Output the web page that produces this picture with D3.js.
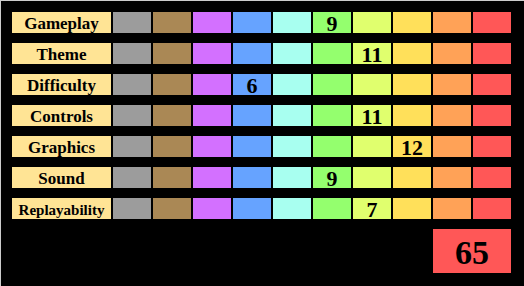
<!DOCTYPE html>
<html>
<head>
<meta charset="utf-8">
<script src="https://cdn.jsdelivr.net/npm/d3@7"></script>
<style>
  body { margin: 0; background: #cccccc; }
  svg { display: block; }
</style>
</head>
<body>
<svg width="524" height="286"></svg>
<script>
// categories and scores
const categories = ["Gameplay", "Theme", "Difficulty", "Controls", "Graphics", "Sound", "Replayability"];
const scores = [9, 11, 6, 11, 12, 9, 7];
// which colour column holds the score on each row
const scoreColumn = [5, 6, 3, 6, 7, 5, 6];
const total = 65;
const columnColors = ["#9c9c9c", "#aa8855", "#d370ff", "#66a3ff", "#a8fff0",
                      "#94ff6e", "#e0ff6e", "#ffe05a", "#ffa257", "#ff5757"];

const FONT = "'Liberation Serif', 'Times New Roman', Times, serif";

const svg = d3.select("svg");

// black panel, leaves a 1px grey edge at top and left
svg.append("rect")
  .attr("x", 1).attr("y", 1)
  .attr("width", 523).attr("height", 285)
  .attr("fill", "#000");

// rows: 21px boxes, 31px apart
const yScale = d3.scaleBand()
  .domain(categories)
  .range([12, 12 + 31 * categories.length - 10])
  .paddingInner(10 / 31)
  .paddingOuter(0);

// 10 colour cells, 38px wide, 40px apart
const xScale = d3.scaleBand()
  .domain(d3.range(columnColors.length))
  .range([113, 511])
  .paddingInner(2 / 40)
  .paddingOuter(0);

const rows = svg.selectAll("g.row")
  .data(categories)
  .enter()
  .append("g")
  .attr("class", "row")
  .attr("transform", d => `translate(0,${yScale(d)})`);

// label boxes
rows.append("rect")
  .attr("x", 12)
  .attr("width", 99)
  .attr("height", yScale.bandwidth())
  .attr("fill", "#ffe495");

rows.append("text")
  .attr("x", 61.5)
  .attr("y", yScale.bandwidth() / 2 + 6)
  .attr("text-anchor", "middle")
  .attr("font-family", FONT)
  .attr("font-weight", "bold")
  .attr("font-size", 17)
  .attr("fill", "#000")
  .text(d => d)
  .each(function () {
    // shrink long labels to fit the box
    const w = this.getComputedTextLength();
    if (w > 88) d3.select(this).attr("font-size", 17 * 86 / w);
  });

// colour cells
rows.selectAll("rect.cell")
  .data(columnColors)
  .enter()
  .append("rect")
  .attr("class", "cell")
  .attr("x", (d, i) => xScale(i))
  .attr("width", xScale.bandwidth())
  .attr("height", yScale.bandwidth())
  .attr("fill", d => d);

// score numbers
rows.append("text")
  .attr("x", (d, i) => xScale(scoreColumn[i]) + xScale.bandwidth() / 2)
  .attr("y", yScale.bandwidth() / 2 + 8)
  .attr("text-anchor", "middle")
  .attr("font-family", FONT)
  .attr("font-weight", "bold")
  .attr("font-size", 22)
  .attr("fill", "#000")
  .text((d, i) => scores[i]);

// total box
const totalX0 = xScale(8);
const totalX1 = xScale(9) + xScale.bandwidth();
svg.append("rect")
  .attr("x", totalX0)
  .attr("y", 229)
  .attr("width", totalX1 - totalX0)
  .attr("height", 44)
  .attr("fill", columnColors[9]);

svg.append("text")
  .attr("x", (totalX0 + totalX1) / 2)
  .attr("y", 264)
  .attr("text-anchor", "middle")
  .attr("font-family", FONT)
  .attr("font-weight", "bold")
  .attr("font-size", 34)
  .attr("fill", "#000")
  .text(total);
</script>
</body>
</html>
